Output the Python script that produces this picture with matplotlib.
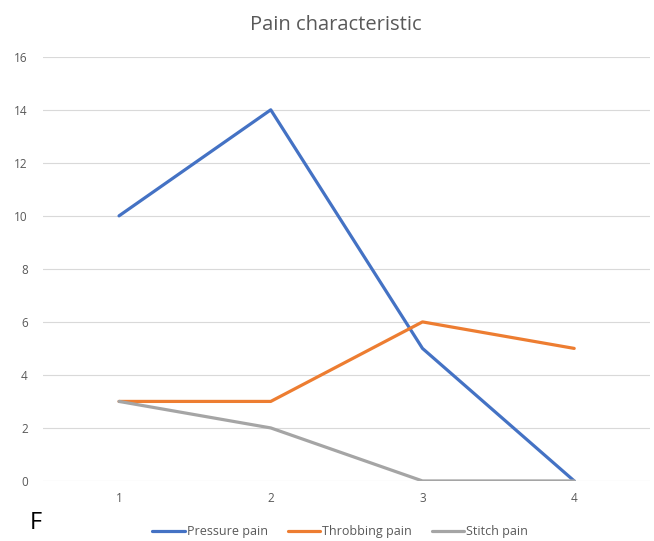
import matplotlib.pyplot as plt

plt.rcParams['font.family'] = ['Open Sans', 'DejaVu Sans']

days = [1, 2, 3, 4]
pressure = [10, 14, 5, 0]
throbbing = [3, 3, 6, 5]
stitch = [3, 2, 0, 0]

series = [
    ("Pressure pain", pressure, "#4472C4"),
    ("Throbbing pain", throbbing, "#ED7D31"),
    ("Stitch pain", stitch, "#A5A5A5"),
]

fig = plt.figure(figsize=(6.54, 5.41), dpi=100)
ax = fig.add_axes([0.066, 0.111, 0.928, 0.784])

for name, vals, col in series:
    ax.plot(days, vals, color=col, lw=2.3, label=name, solid_capstyle='round')

ax.set_xlim(0.5, 4.5)
ax.set_ylim(0, 16)
ax.set_yticks(range(0, 17, 2))
ax.set_xticks(days)
ax.grid(axis='y', color='#D9D9D9', lw=0.8)
ax.set_axisbelow(True)
for s in ax.spines.values():
    s.set_visible(False)
ax.tick_params(length=0, labelsize=8.5, labelcolor='#595959', pad=11)
ax.tick_params(axis='x', pad=8)

fig.text(0.514, 0.953, "Pain characteristic", ha='center', va='center',
         fontsize=14.5, color='#595959')
fig.text(0.045, 0.033, "F", ha='left', va='center', fontsize=17, color='black')

fig.legend(loc='center', bbox_to_anchor=(0.52, 0.017), ncol=3, frameon=False,
           fontsize=9, handlelength=2.6, handletextpad=0.15, columnspacing=1.6,
           labelcolor='#595959')

fig.savefig("out.png", dpi=100)
